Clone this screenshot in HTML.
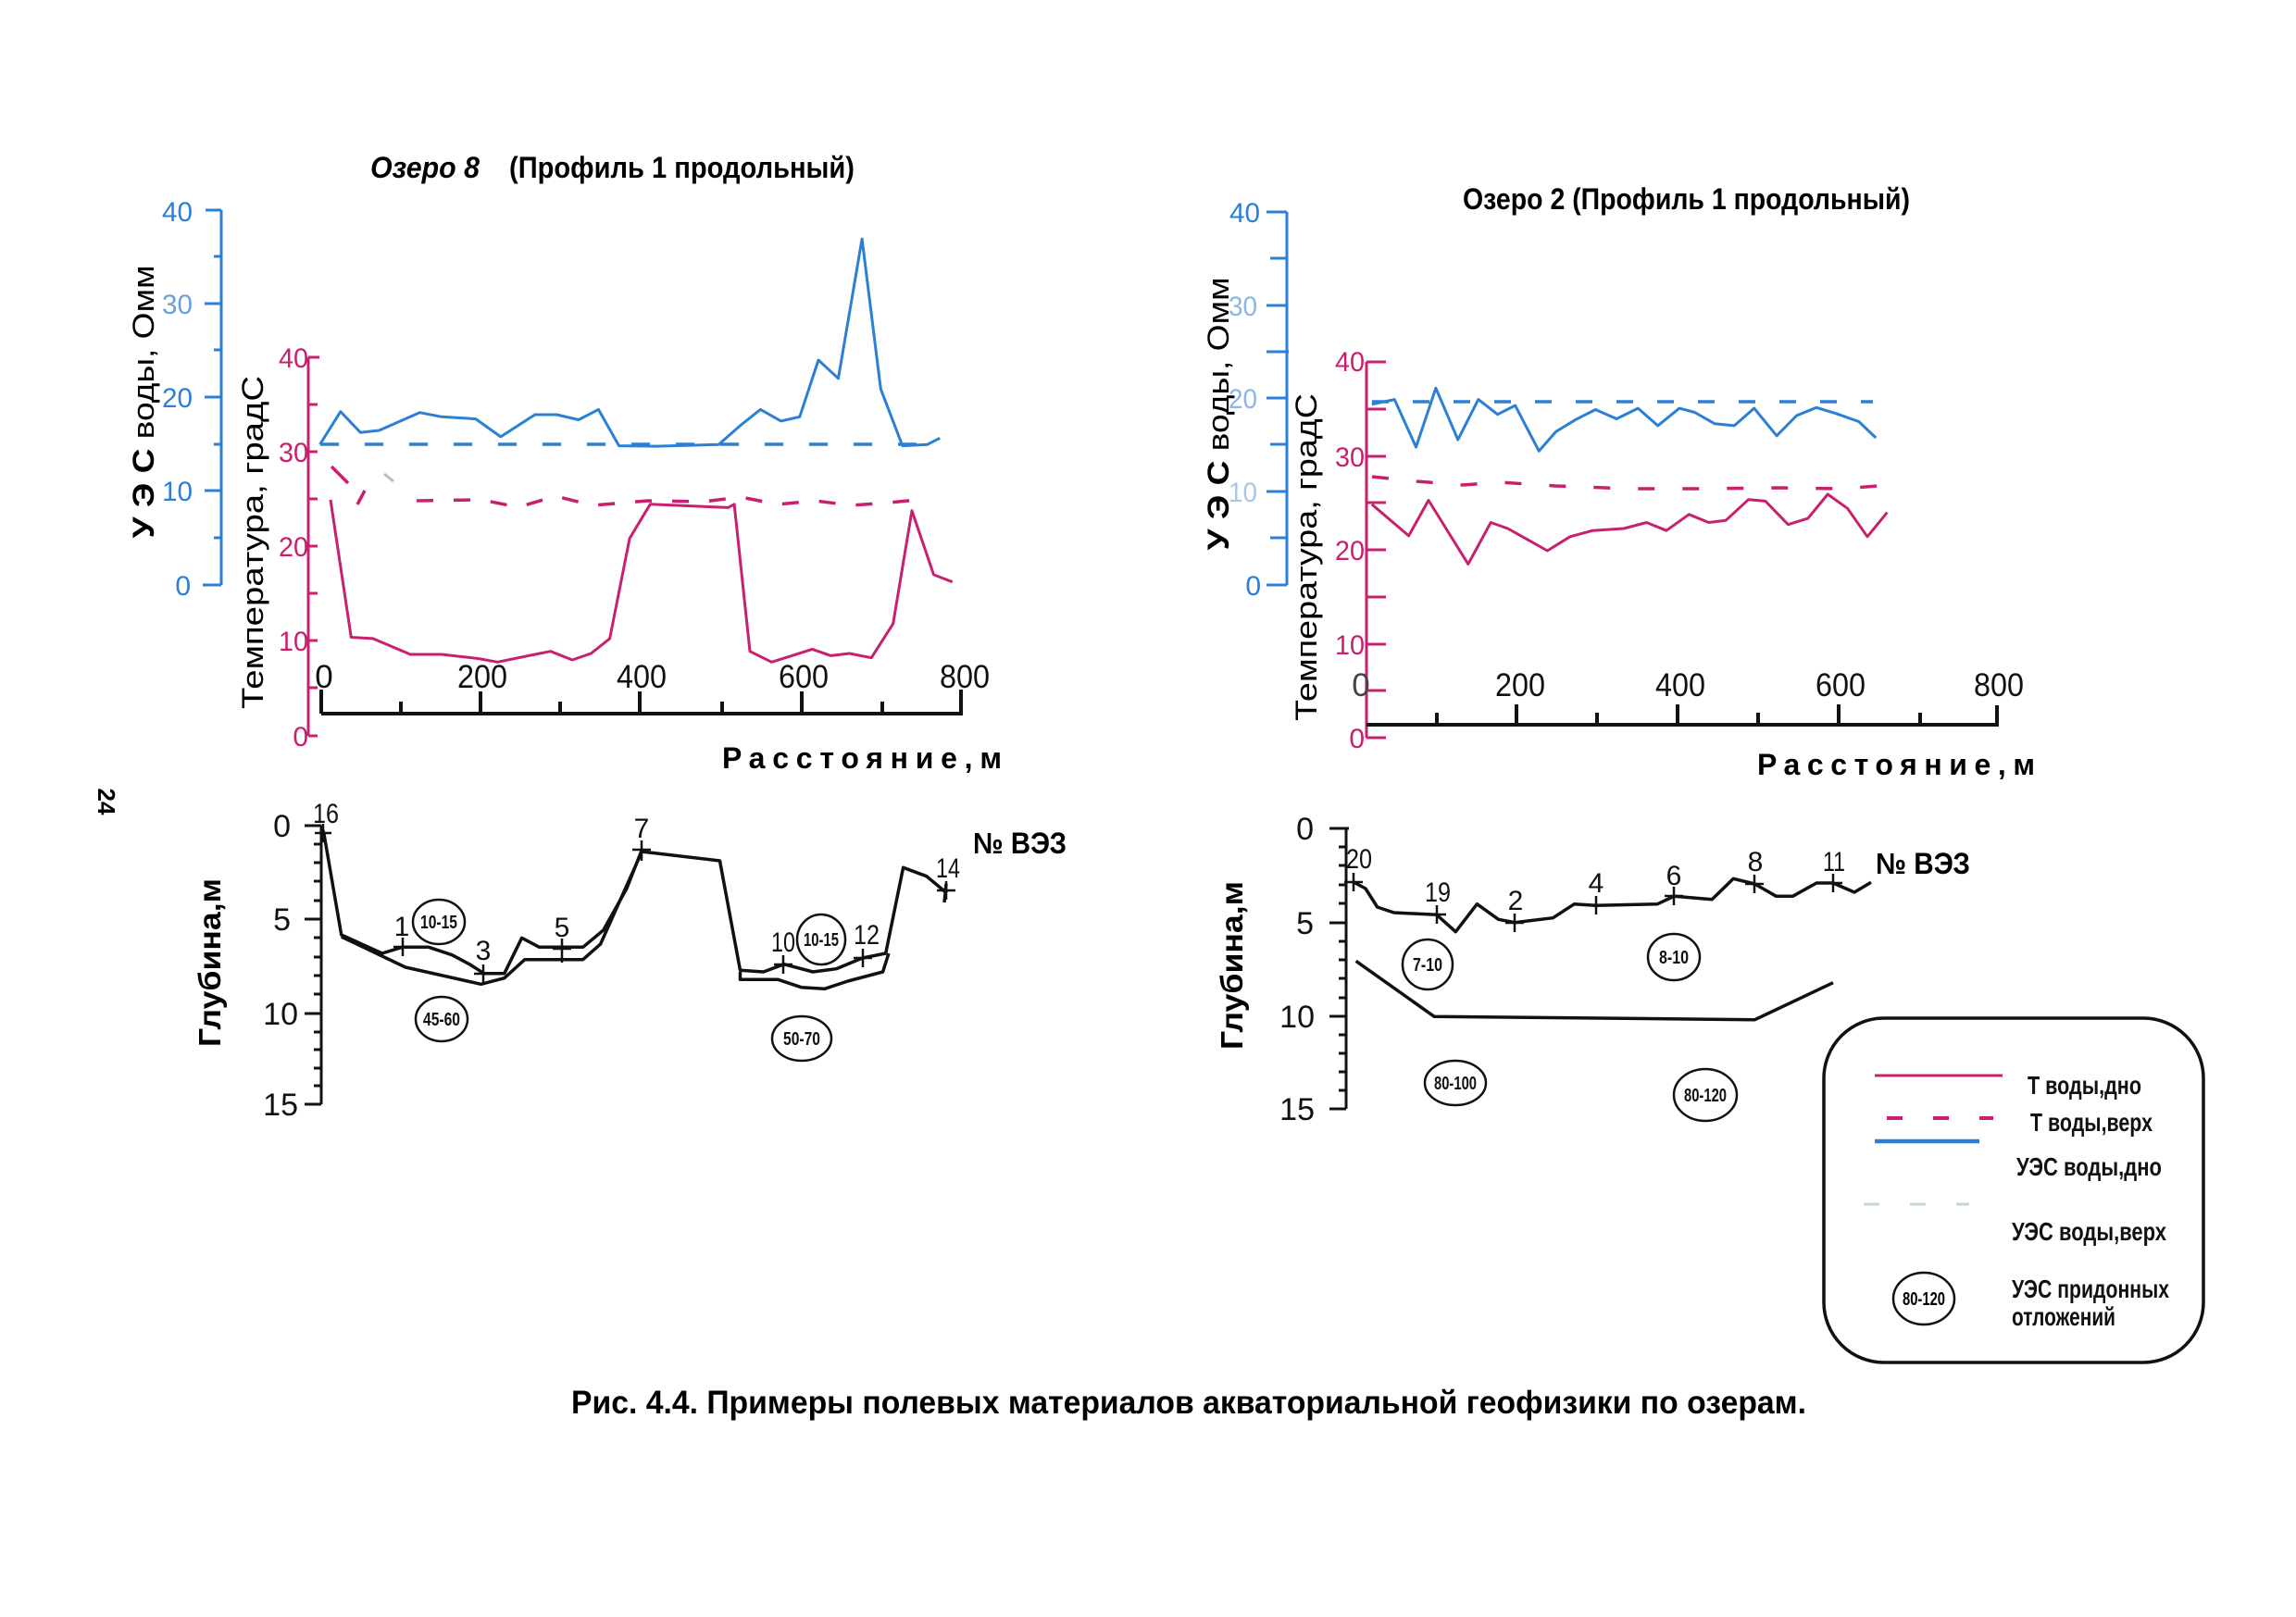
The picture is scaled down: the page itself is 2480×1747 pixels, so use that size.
<!DOCTYPE html>
<html><head><meta charset="utf-8"><style>
html,body{margin:0;padding:0;background:#fff;}
svg{display:block;}
text{font-family:"Liberation Sans","DejaVu Sans",sans-serif;}
</style></head><body>
<svg width="2480" height="1747" viewBox="0 0 2480 1747" xmlns="http://www.w3.org/2000/svg">
<rect width="2480" height="1747" fill="#fff"/>

<!-- ================= LEFT TOP CHART ================= -->
<text x="400" y="192" font-size="32" font-weight="bold" font-style="italic" textLength="118" lengthAdjust="spacingAndGlyphs">Озеро 8</text>
<text x="550" y="192" font-size="32" font-weight="bold" textLength="373" lengthAdjust="spacingAndGlyphs">(Профиль 1 продольный)</text>

<!-- blue axis -->
<g stroke="#2b7fd4" stroke-width="3" fill="none">
<line x1="239" y1="227" x2="239" y2="632"/>
<line x1="222" y1="227" x2="239" y2="227"/><line x1="221" y1="328" x2="239" y2="328"/><line x1="221" y1="429" x2="239" y2="429"/><line x1="221" y1="530" x2="239" y2="530"/><line x1="219" y1="632" x2="239" y2="632"/>
<line x1="231" y1="277" x2="239" y2="277"/><line x1="231" y1="378" x2="239" y2="378"/><line x1="231" y1="480" x2="239" y2="480"/><line x1="231" y1="581" x2="239" y2="581"/>
</g>
<g fill="#2b7fd4" font-size="30" text-anchor="end">
<text x="208" y="239" textLength="33" lengthAdjust="spacingAndGlyphs">40</text>
<text x="208" y="339" fill="#6a9fd8" textLength="33" lengthAdjust="spacingAndGlyphs">30</text>
<text x="208" y="440" textLength="33" lengthAdjust="spacingAndGlyphs">20</text>
<text x="208" y="541" textLength="33" lengthAdjust="spacingAndGlyphs">10</text>
<text x="206" y="643">0</text>
</g>
<text transform="translate(166,434) rotate(-90)" text-anchor="middle" font-size="32" textLength="295" lengthAdjust="spacingAndGlyphs"><tspan font-weight="bold">У Э С</tspan> воды, Омм</text>

<!-- pink axis -->
<g stroke="#c8206e" stroke-width="3" fill="none">
<line x1="333" y1="386" x2="333" y2="795"/>
<line x1="333" y1="386" x2="345" y2="386"/><line x1="333" y1="437" x2="343" y2="437"/><line x1="333" y1="488" x2="343" y2="488"/><line x1="333" y1="539" x2="343" y2="539"/><line x1="333" y1="590" x2="343" y2="590"/><line x1="333" y1="641" x2="343" y2="641"/><line x1="333" y1="692" x2="343" y2="692"/><line x1="333" y1="743" x2="343" y2="743"/><line x1="333" y1="795" x2="343" y2="795"/>
</g>
<g fill="#c8206e" font-size="30" text-anchor="end">
<text x="333" y="397" textLength="32" lengthAdjust="spacingAndGlyphs">40</text>
<text x="333" y="499" textLength="32" lengthAdjust="spacingAndGlyphs">30</text>
<text x="333" y="601" textLength="32" lengthAdjust="spacingAndGlyphs">20</text>
<text x="333" y="703" textLength="32" lengthAdjust="spacingAndGlyphs">10</text>
<text x="333" y="806">0</text>
</g>
<text transform="translate(284,586) rotate(-90)" text-anchor="middle" font-size="32" textLength="360" lengthAdjust="spacingAndGlyphs">Температура, градС</text>

<!-- x axis -->
<g stroke="#111" stroke-width="4" fill="none">
<line x1="347" y1="771" x2="1038" y2="771"/>
<line x1="347" y1="745" x2="347" y2="771"/><line x1="433" y1="758" x2="433" y2="771"/><line x1="519" y1="747" x2="519" y2="771"/><line x1="605" y1="758" x2="605" y2="771"/><line x1="691" y1="747" x2="691" y2="771"/><line x1="780" y1="758" x2="780" y2="771"/><line x1="866" y1="747" x2="866" y2="771"/><line x1="953" y1="758" x2="953" y2="771"/><line x1="1038" y1="745" x2="1038" y2="773"/>
</g>
<g fill="#111" font-size="35" text-anchor="middle">
<text x="350" y="743">0</text>
<text x="521" y="743" textLength="54" lengthAdjust="spacingAndGlyphs">200</text>
<text x="693" y="743" textLength="54" lengthAdjust="spacingAndGlyphs">400</text>
<text x="868" y="743" textLength="54" lengthAdjust="spacingAndGlyphs">600</text>
<text x="1042" y="743" textLength="54" lengthAdjust="spacingAndGlyphs">800</text>
</g>
<text x="780" y="830" font-size="32" font-weight="bold" textLength="302" lengthAdjust="spacing">Расстояние,м</text>

<!-- series -->
<line x1="346" y1="480" x2="1015" y2="480" stroke="#2b7fd4" stroke-width="3.5" stroke-dasharray="20 28"/>
<polyline fill="none" stroke="#2b7fd4" stroke-width="3" stroke-linejoin="round" points="345.6,480.2 367.8,444.7 389.4,467.3 409.6,465 453.3,445.7 476.9,450.3 513.9,452.6 540.8,471.9 577.8,448 601.3,448 624.9,453.5 646.4,442.4 668.6,481.6 709,482.1 776.3,480.2 799.9,459.5 821.4,442.4 843.6,454.9 863.8,450.3 884,389 905.5,408.8 931.1,258.1 951.3,420.3 974.8,481.6 1001.8,480.2 1015.2,473.3"/>
<polyline fill="none" stroke="#c8206e" stroke-width="3" stroke-linejoin="round" points="357,540 379.3,688.5 402.8,689.9 443.2,707 476.9,707 517.2,711.6 537.4,715.3 571.1,708.4 594.6,703.7 618.2,713 638.4,706 658.6,689.9 680.1,581.6 702.3,544.8 786.4,548.4 793.1,544.8 810,703.7 833.5,715.3 877.3,701.4 897.4,708.4 917.6,706 941.2,710.7 964.7,673.8 985,551.7 1008.5,620.9 1028.7,628.7"/>
<g stroke="#c8206e" stroke-width="3.5" fill="none">
<line x1="358" y1="504" x2="376" y2="522"/>
<line x1="386" y1="545" x2="394" y2="530"/>
<polyline stroke-dasharray="18 22" points="450,541 520,540 560,548 600,536 640,546 700,541 760,542 800,537 840,545 880,541 920,546 960,543 992,540"/>
</g>
<line x1="415" y1="512" x2="425" y2="520" stroke="#bbb" stroke-width="3"/>

<!-- ================= RIGHT TOP CHART ================= -->
<text x="1580" y="226" font-size="32" font-weight="bold" textLength="483" lengthAdjust="spacingAndGlyphs">Озеро 2 (Профиль 1 продольный)</text>

<g stroke="#2b7fd4" stroke-width="3" fill="none">
<line x1="1390" y1="229" x2="1390" y2="632"/>
<line x1="1368" y1="229" x2="1390" y2="229"/><line x1="1368" y1="330" x2="1390" y2="330"/><line x1="1368" y1="430" x2="1390" y2="430"/><line x1="1368" y1="531" x2="1390" y2="531"/><line x1="1368" y1="632" x2="1390" y2="632"/>
<line x1="1372" y1="279" x2="1390" y2="279"/><line x1="1368" y1="380" x2="1392" y2="380"/><line x1="1372" y1="480" x2="1390" y2="480"/><line x1="1372" y1="581" x2="1390" y2="581"/>
</g>
<g fill="#2b7fd4" font-size="30" text-anchor="end">
<text x="1361" y="240" textLength="33" lengthAdjust="spacingAndGlyphs">40</text>
<text x="1358" y="341" fill="#8db6e2" textLength="31" lengthAdjust="spacingAndGlyphs">30</text>
<text x="1358" y="441" fill="#8db6e2" textLength="31" lengthAdjust="spacingAndGlyphs">20</text>
<text x="1358" y="542" fill="#a8c6e6" textLength="31" lengthAdjust="spacingAndGlyphs">10</text>
<text x="1362" y="643">0</text>
</g>
<text transform="translate(1327,447) rotate(-90)" text-anchor="middle" font-size="32" textLength="295" lengthAdjust="spacingAndGlyphs"><tspan font-weight="bold">У Э С</tspan> воды, Омм</text>

<g stroke="#c8206e" stroke-width="3" fill="none">
<line x1="1476" y1="391" x2="1476" y2="797"/>
<line x1="1476" y1="391" x2="1497" y2="391"/><line x1="1476" y1="442" x2="1497" y2="442"/><line x1="1476" y1="493" x2="1497" y2="493"/><line x1="1476" y1="543" x2="1497" y2="543"/><line x1="1476" y1="594" x2="1497" y2="594"/><line x1="1476" y1="645" x2="1497" y2="645"/><line x1="1476" y1="696" x2="1497" y2="696"/><line x1="1476" y1="746" x2="1497" y2="746"/><line x1="1476" y1="797" x2="1497" y2="797"/>
</g>
<g fill="#c8206e" font-size="30" text-anchor="end">
<text x="1474" y="401" textLength="32" lengthAdjust="spacingAndGlyphs">40</text>
<text x="1474" y="504" textLength="32" lengthAdjust="spacingAndGlyphs">30</text>
<text x="1474" y="605" textLength="32" lengthAdjust="spacingAndGlyphs">20</text>
<text x="1474" y="707" textLength="32" lengthAdjust="spacingAndGlyphs">10</text>
<text x="1474" y="808">0</text>
</g>
<text transform="translate(1422,602) rotate(-90)" text-anchor="middle" font-size="32" textLength="354" lengthAdjust="spacingAndGlyphs">Температура, градС</text>

<g stroke="#111" stroke-width="4" fill="none">
<line x1="1476" y1="783" x2="2157" y2="783"/>
<line x1="1552" y1="770" x2="1552" y2="783"/><line x1="1638" y1="761" x2="1638" y2="783"/><line x1="1725" y1="770" x2="1725" y2="783"/><line x1="1812" y1="761" x2="1812" y2="783"/><line x1="1899" y1="770" x2="1899" y2="783"/><line x1="1986" y1="761" x2="1986" y2="783"/><line x1="2074" y1="770" x2="2074" y2="783"/><line x1="2157" y1="762" x2="2157" y2="785"/>
</g>
<g fill="#111" font-size="35" text-anchor="middle">
<text x="1470" y="752" fill="#444">0</text>
<text x="1642" y="752" textLength="54" lengthAdjust="spacingAndGlyphs">200</text>
<text x="1815" y="752" textLength="54" lengthAdjust="spacingAndGlyphs">400</text>
<text x="1988" y="752" textLength="54" lengthAdjust="spacingAndGlyphs">600</text>
<text x="2159" y="752" textLength="54" lengthAdjust="spacingAndGlyphs">800</text>
</g>
<text x="1898" y="837" font-size="32" font-weight="bold" textLength="300" lengthAdjust="spacing">Расстояние,м</text>

<line x1="1482" y1="434" x2="2023" y2="434" stroke="#2b7fd4" stroke-width="3.5" stroke-dasharray="18 26"/>
<polyline fill="none" stroke="#2b7fd4" stroke-width="3" stroke-linejoin="round" points="1481.8,436.8 1506.3,431.6 1529.5,483 1550.9,419.3 1574.8,475.1 1596.8,431.6 1617.6,447.7 1636.6,438.1 1662.3,487.3 1680.6,466.4 1702,453.3 1723.4,442.5 1746.1,452.5 1769.3,441.1 1790.7,459.9 1813.9,441.1 1830.5,445.5 1851.9,457.7 1873.3,459.9 1894.7,441.1 1919.1,470.8 1940.6,449 1961.9,440.3 1983.4,446.8 2007.8,455.5 2026.2,473"/>
<polyline fill="none" stroke="#c8206e" stroke-width="3.5" stroke-dasharray="18 30" points="1482,515 1530,520 1580,524 1620,521 1680,525 1760,528 1840,528 1920,527 1990,528 2028,525"/>
<polyline fill="none" stroke="#c8206e" stroke-width="3" stroke-linejoin="round" points="1481.8,544.9 1521.6,578.9 1543,540.5 1585.8,609.4 1610.3,564.5 1628.6,571 1671.4,595 1695.9,579.8 1720.4,573.2 1754,571 1778.5,564.5 1799.9,573.2 1824.3,555.8 1845.7,564.5 1864.1,562.3 1888.6,539.7 1906.9,541.4 1931.4,566.7 1952.8,560.1 1974.2,534 1995.6,549.3 2017,579.8 2038.4,553.6"/>

<!-- ================= LEFT DEPTH CHART ================= -->
<g stroke="#111" stroke-width="3" fill="none">
<line x1="347" y1="892" x2="347" y2="1193"/>
<line x1="329" y1="892" x2="347" y2="892"/><line x1="329" y1="993" x2="347" y2="993"/><line x1="329" y1="1095" x2="347" y2="1095"/><line x1="329" y1="1193" x2="347" y2="1193"/>
<line x1="339" y1="912" x2="347" y2="912"/><line x1="339" y1="932" x2="347" y2="932"/><line x1="339" y1="952" x2="347" y2="952"/><line x1="339" y1="973" x2="347" y2="973"/>
<line x1="339" y1="1013" x2="347" y2="1013"/><line x1="339" y1="1034" x2="347" y2="1034"/><line x1="339" y1="1054" x2="347" y2="1054"/><line x1="339" y1="1074" x2="347" y2="1074"/>
<line x1="339" y1="1115" x2="347" y2="1115"/><line x1="339" y1="1134" x2="347" y2="1134"/><line x1="339" y1="1154" x2="347" y2="1154"/><line x1="339" y1="1173" x2="347" y2="1173"/>
</g>
<g fill="#111" font-size="34" text-anchor="end">
<text x="314" y="904">0</text>
<text x="314" y="1005">5</text>
<text x="322" y="1107">10</text>
<text x="322" y="1205">15</text>
</g>
<text transform="translate(238,1040) rotate(-90)" text-anchor="middle" font-size="33" font-weight="bold" textLength="182" lengthAdjust="spacingAndGlyphs">Глубина,м</text>

<g stroke="#111" stroke-width="3.5" fill="none" stroke-linejoin="round">
<polyline points="346.7,891.7 349.8,900 368.7,1010 412.7,1030 434.7,1023.3 463,1023.3 488.2,1031.7 507,1041.7 522.8,1051.7 544.8,1051.7 563.6,1013.3 582.5,1023.3 629.7,1023.3 651.7,1005 676.9,960 692.6,920 777.5,930 799.5,1048.3 824.7,1050 846.7,1041.7 878.1,1050 903.3,1046.7 931.6,1035 956.7,1030 975.6,937.3 1000.8,946.7 1022.8,965"/>
<polyline points="368.7,1012 437.9,1045 519.6,1063.3 544.8,1056.7 566.8,1036.7 629.7,1036.7 648.6,1020 692.6,921.7"/>
<polyline points="799.5,1050 799.5,1058.3 840.4,1058.3 865.5,1066.7 890.7,1068.3 915.8,1060 953.6,1050 959.9,1030"/>
<line x1="1022" y1="955" x2="1020" y2="975"/>
</g>
<g stroke="#111" stroke-width="2.5">
<line x1="349" y1="890" x2="349" y2="910"/><line x1="340" y1="900" x2="358" y2="900"/>
<line x1="435" y1="1013" x2="435" y2="1033"/><line x1="425" y1="1023" x2="445" y2="1023"/>
<line x1="522" y1="1042" x2="522" y2="1062"/><line x1="512" y1="1052" x2="532" y2="1052"/>
<line x1="607" y1="1014" x2="607" y2="1040"/><line x1="597" y1="1025" x2="617" y2="1025"/>
<line x1="693" y1="908" x2="693" y2="930"/><line x1="683" y1="918" x2="703" y2="918"/>
<line x1="846" y1="1032" x2="846" y2="1052"/><line x1="836" y1="1042" x2="856" y2="1042"/>
<line x1="932" y1="1025" x2="932" y2="1045"/><line x1="922" y1="1035" x2="942" y2="1035"/>
<line x1="1022" y1="952" x2="1022" y2="972"/><line x1="1012" y1="962" x2="1032" y2="962"/>
</g>
<g fill="#111" font-size="30" text-anchor="middle">
<text x="352" y="889" textLength="28" lengthAdjust="spacingAndGlyphs">16</text>
<text x="434" y="1011">1</text>
<text x="522" y="1037">3</text>
<text x="607" y="1012">5</text>
<text x="693" y="905">7</text>
<text x="846" y="1028" textLength="26" lengthAdjust="spacingAndGlyphs">10</text>
<text x="936" y="1020" textLength="28" lengthAdjust="spacingAndGlyphs">12</text>
<text x="1024" y="948" textLength="26" lengthAdjust="spacingAndGlyphs">14</text>
</g>
<text x="1051" y="922" font-size="32" font-weight="bold" textLength="101" lengthAdjust="spacingAndGlyphs">№ ВЭЗ</text>

<g stroke="#111" stroke-width="2.5" fill="none">
<ellipse cx="474" cy="996" rx="28" ry="24"/>
<ellipse cx="477" cy="1101" rx="28" ry="24"/>
<ellipse cx="887" cy="1015" rx="26" ry="27"/>
<ellipse cx="866" cy="1122" rx="32" ry="24"/>
</g>
<g fill="#111" font-size="20" font-weight="bold" text-anchor="middle">
<text x="474" y="1003" textLength="40" lengthAdjust="spacingAndGlyphs">10-15</text>
<text x="477" y="1108" textLength="40" lengthAdjust="spacingAndGlyphs">45-60</text>
<text x="887" y="1022" textLength="38" lengthAdjust="spacingAndGlyphs">10-15</text>
<text x="866" y="1129" textLength="40" lengthAdjust="spacingAndGlyphs">50-70</text>
</g>

<!-- ================= RIGHT DEPTH CHART ================= -->
<g stroke="#111" stroke-width="3" fill="none">
<line x1="1454" y1="895" x2="1454" y2="1198"/>
<line x1="1436" y1="895" x2="1457" y2="895"/><line x1="1436" y1="997" x2="1454" y2="997"/><line x1="1436" y1="1098" x2="1454" y2="1098"/><line x1="1436" y1="1198" x2="1454" y2="1198"/>
<line x1="1446" y1="915" x2="1454" y2="915"/><line x1="1446" y1="935" x2="1454" y2="935"/><line x1="1446" y1="956" x2="1454" y2="956"/><line x1="1446" y1="976" x2="1454" y2="976"/>
<line x1="1446" y1="1017" x2="1454" y2="1017"/><line x1="1446" y1="1037" x2="1454" y2="1037"/><line x1="1446" y1="1057" x2="1454" y2="1057"/><line x1="1446" y1="1078" x2="1454" y2="1078"/>
<line x1="1446" y1="1118" x2="1454" y2="1118"/><line x1="1446" y1="1138" x2="1454" y2="1138"/><line x1="1446" y1="1158" x2="1454" y2="1158"/><line x1="1446" y1="1178" x2="1454" y2="1178"/>
</g>
<g fill="#111" font-size="34" text-anchor="end">
<text x="1419" y="907">0</text>
<text x="1419" y="1009">5</text>
<text x="1420" y="1110">10</text>
<text x="1420" y="1210">15</text>
</g>
<text transform="translate(1342,1043) rotate(-90)" text-anchor="middle" font-size="33" font-weight="bold" textLength="182" lengthAdjust="spacingAndGlyphs">Глубина,м</text>

<g stroke="#111" stroke-width="3.5" fill="none" stroke-linejoin="round">
<polyline points="1462,953 1475,960 1487.7,980 1505.6,986 1551.8,988.3 1572.3,1006.7 1595.4,976.7 1618.5,993.3 1636.4,996.7 1677.4,991.7 1700.5,976.7 1723.6,978.3 1790.3,976.7 1808.2,968.3 1849.2,971.7 1872.3,949.3 1895.4,955 1918.5,968.3 1936.4,968.3 1962.1,954 1980,954 2003,964 2021,953.3"/>
<polyline points="1464.6,1038.3 1549.2,1098.3 1895.4,1101.7 1980,1061.7"/>
</g>
<g stroke="#111" stroke-width="2.5">
<line x1="1462" y1="943" x2="1462" y2="963"/><line x1="1452" y1="953" x2="1472" y2="953"/>
<line x1="1552" y1="978" x2="1552" y2="998"/><line x1="1542" y1="988" x2="1562" y2="988"/>
<line x1="1636" y1="987" x2="1636" y2="1007"/><line x1="1626" y1="997" x2="1646" y2="997"/>
<line x1="1724" y1="968" x2="1724" y2="988"/><line x1="1714" y1="978" x2="1734" y2="978"/>
<line x1="1808" y1="958" x2="1808" y2="978"/><line x1="1798" y1="968" x2="1818" y2="968"/>
<line x1="1895" y1="945" x2="1895" y2="965"/><line x1="1885" y1="955" x2="1905" y2="955"/>
<line x1="1980" y1="944" x2="1980" y2="964"/><line x1="1970" y1="954" x2="1990" y2="954"/>
</g>
<g fill="#111" font-size="30" text-anchor="middle">
<text x="1468" y="938" textLength="28" lengthAdjust="spacingAndGlyphs">20</text>
<text x="1553" y="974" textLength="28" lengthAdjust="spacingAndGlyphs">19</text>
<text x="1637" y="983">2</text>
<text x="1724" y="964">4</text>
<text x="1808" y="956">6</text>
<text x="1896" y="941">8</text>
<text x="1981" y="941" textLength="24" lengthAdjust="spacingAndGlyphs">11</text>
</g>
<text x="2026" y="944" font-size="32" font-weight="bold" textLength="102" lengthAdjust="spacingAndGlyphs">№ ВЭЗ</text>

<g stroke="#111" stroke-width="2.5" fill="none">
<ellipse cx="1542" cy="1042" rx="27" ry="27"/>
<ellipse cx="1808" cy="1034" rx="28" ry="25"/>
<ellipse cx="1572" cy="1170" rx="33" ry="24"/>
<ellipse cx="1842" cy="1183" rx="34" ry="28"/>
</g>
<g fill="#111" font-size="20" font-weight="bold" text-anchor="middle">
<text x="1542" y="1049" textLength="32" lengthAdjust="spacingAndGlyphs">7-10</text>
<text x="1808" y="1041" textLength="32" lengthAdjust="spacingAndGlyphs">8-10</text>
<text x="1572" y="1177" textLength="46" lengthAdjust="spacingAndGlyphs">80-100</text>
<text x="1842" y="1190" textLength="46" lengthAdjust="spacingAndGlyphs">80-120</text>
</g>

<!-- ================= LEGEND ================= -->
<rect x="1970" y="1100" width="410" height="372" rx="65" ry="65" fill="none" stroke="#111" stroke-width="3.5"/>
<line x1="2025" y1="1162" x2="2163" y2="1162" stroke="#c8206e" stroke-width="3"/>
<line x1="2038" y1="1208" x2="2153" y2="1208" stroke="#c8206e" stroke-width="4" stroke-dasharray="17 33"/>
<line x1="2025" y1="1233" x2="2138" y2="1233" stroke="#2b7fd4" stroke-width="4.5"/>
<line x1="2013" y1="1301" x2="2127" y2="1301" stroke="#c6d6d6" stroke-width="3" stroke-dasharray="17 33"/>
<g fill="#111" font-size="28" font-weight="bold">
<text x="2190" y="1182" textLength="123" lengthAdjust="spacingAndGlyphs">Т воды,дно</text>
<text x="2193" y="1222" textLength="132" lengthAdjust="spacingAndGlyphs">Т воды,верх</text>
<text x="2178" y="1270" textLength="157" lengthAdjust="spacingAndGlyphs">УЭС воды,дно</text>
<text x="2173" y="1340" textLength="167" lengthAdjust="spacingAndGlyphs">УЭС воды,верх</text>
<text x="2173" y="1402" textLength="170" lengthAdjust="spacingAndGlyphs">УЭС придонных</text>
<text x="2173" y="1432" textLength="112" lengthAdjust="spacingAndGlyphs">отложений</text>
</g>
<ellipse cx="2078" cy="1403" rx="33" ry="28" fill="none" stroke="#111" stroke-width="2.5"/>
<text x="2078" y="1410" font-size="20" font-weight="bold" text-anchor="middle" textLength="46" lengthAdjust="spacingAndGlyphs">80-120</text>

<!-- page number -->
<text transform="translate(106,866) rotate(90)" text-anchor="middle" font-size="26" font-weight="bold">24</text>

<!-- caption -->
<text x="617" y="1527" font-size="35" font-weight="bold" textLength="1334" lengthAdjust="spacingAndGlyphs">Рис. 4.4. Примеры полевых материалов акваториальной геофизики по озерам.</text>
</svg>
</body></html>
